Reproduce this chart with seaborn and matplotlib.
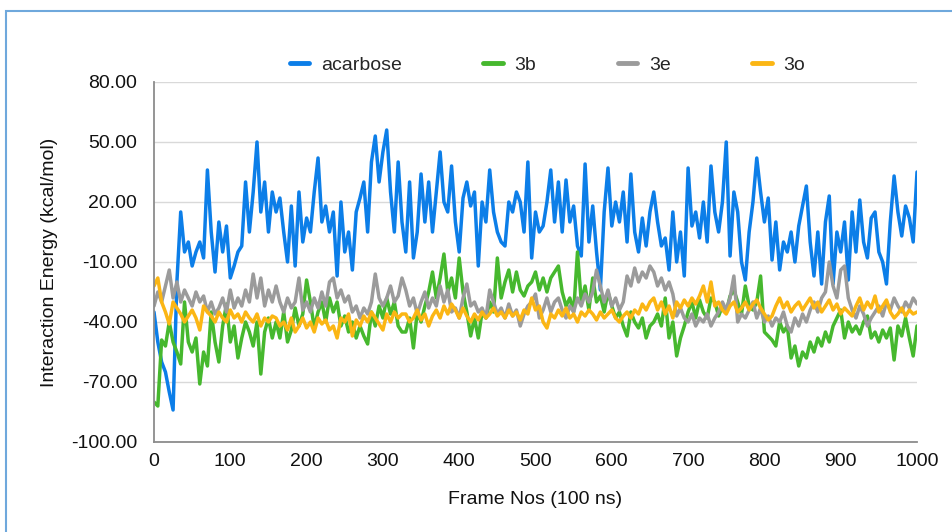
import matplotlib
matplotlib.use("Agg")
import matplotlib.pyplot as plt
import numpy as np
import pandas as pd
import seaborn as sns
from matplotlib.lines import Line2D
from matplotlib.patches import Rectangle
from matplotlib.ticker import FuncFormatter

# ---------------- data (every 5 frames) ----------------
frames = list(range(0, 1001, 5))

acarbose = [
    -35, -50, -60, -65, -75, -84, -20, 15, -5, 0,
    -12, -5, 0, -8, 36, 5, -15, 10, -5, 8,
    -18, -12, -5, -2, 30, 5, 25, 50, 15, 30,
    5, 25,
    15, 22, 5, -10, 18, -12, 25, 0, 12, 5,
    25, 42, 10, 18, 5, 15, -17, 20, -5, 5,
    -14, 15, 22, 30, 5, 40, 53, 30, 45, 56,
    25, 5, 40, 10,
    -5, 30, -8, 5, 34, 10, 30, 5, 25, 45,
    20, 15, 38, 10, -5, 22, 30, 18, 25, -12,
    20, 10, 36, 15, 5, 0, -2, 20, 15, 25,
    20, 5, 40,
    -8, 15, 5, 8, 20, 36, 10, 30, 5, 31,
    10, 18, -2, -7, 39, 0, 18, -5, -24, 15,
    37, 8, 20, 10, 25, 0, 34, 5, -5, 12,
    -2, 15,
    25, 10, -2, 2, -14, 15, -10, 5, -17, 37,
    8, 15, 2, 20, 0, 38, 15, 5, 20, 50,
    -7, 25, 15, -10, -19, 5, 20, 42, 25, 10,
    22, -9, 10,
    -14, 0, -5, 5, -10, 8, 18, 28, 0, -17,
    5, -21, 10, 23, -21, 5, -5, 10, -19, 15,
    -5, 21, 0, -8, 12, 15, -5, -10, -21, 10,
    33, 15, 3, 18, 12, 0, 35,
]

ligand_3b = [
    -80, -82, -49, -52, -40, -50, -55, -61, -30, -50,
    -55, -48, -71, -55, -62, -35, -50, -60, -42, -31,
    -50, -42, -58, -48, -40, -45, -52, -40, -66, -45,
    -38, -48,
    -40, -48, -35, -50, -44, -33, -42, -36, -19, -30,
    -43, -35, -30, -40, -28, -35, -30, -42, -37, -45,
    -40, -48, -42, -47, -51, -35, -42, -32, -38, -28,
    -36, -30, -42, -45,
    -45, -38, -53, -35, -40, -32, -25, -15, -28, -18,
    -6, -25, -18, -28, -8, -25, -35, -47, -38, -48,
    -35, -38, -30, -35, -8, -28, -20, -14, -25, -15,
    -24, -27, -22,
    -20, -15, -24, -18, -25, -18, -15, -12, -25, -32,
    -28, -35, -5, -30, -22, -34, -18, -30, -27, -35,
    -25, -32, -38, -35, -42, -47, -35, -40, -43, -38,
    -48, -42,
    -40, -36, -42, -28, -48, -40, -57, -48, -42, -35,
    -30, -38, -29, -35, -38, -28, -30, -37, -32, -35,
    -27, -24, -30, -36, -22, -32, -34, -30, -17, -45,
    -47, -49, -52,
    -40, -45, -42, -58, -52, -62, -55, -58, -50, -55,
    -48, -52, -45, -50, -42, -38, -34, -48, -40, -45,
    -42, -46, -40, -37, -48, -45, -50, -44, -48, -43,
    -59, -42, -47, -38, -48, -57, -42,
]

ligand_3e = [
    -32, -25, -30, -22, -14, -28, -20, -30, -24, -28,
    -32, -25, -30, -27, -35, -30, -36, -33, -28, -35,
    -24, -33, -28, -32, -24, -30, -16, -28, -18, -32,
    -24, -30,
    -22, -30, -35, -28, -33, -30, -18, -34, -30, -35,
    -28, -33, -25, -32, -20, -18, -28, -24, -30, -27,
    -35, -32, -38, -33, -36, -30, -16, -28, -32, -28,
    -22, -30, -27, -18,
    -24, -32, -28, -36, -30, -25, -33, -28, -32, -22,
    -30, -24, -35, -33, -38, -28, -21, -32, -30, -35,
    -33, -38, -24, -30, -36, -33, -38, -31, -37, -34,
    -42, -36, -32,
    -30, -26, -38, -34, -28, -35, -30, -28, -34, -38,
    -32, -35, -28, -32, -26, -30, -25, -14, -22, -30,
    -24, -32, -28, -34, -30, -17, -22, -13, -20, -15,
    -18, -12,
    -15, -22, -18, -24, -20, -26, -37, -33, -38, -40,
    -36, -42, -38, -40, -36, -42, -38, -35, -30, -34,
    -28, -17, -40, -36, -38, -34, -30, -38, -33, -40,
    -37, -42, -38,
    -40, -35, -42, -45, -38, -42, -36, -40, -34, -30,
    -35, -28, -25, -10, -22, -28, -14, -12, -28, -34,
    -38, -32, -36, -42, -38, -35, -32, -37, -30, -34,
    -28, -32, -35, -30, -33, -28, -31,
]

ligand_3o = [
    -22, -18, -30, -35, -41, -30, -33, -36, -40, -37,
    -34, -38, -44, -32, -35, -37, -40, -35, -38, -40,
    -34, -38, -36, -40, -35, -38, -40, -36, -42, -38,
    -40, -37,
    -38, -42, -40, -44, -38, -45, -42, -38, -43, -40,
    -45, -38, -41, -39, -44, -42, -48, -38, -40, -36,
    -47, -39, -42, -37, -40, -35, -38, -41, -44, -36,
    -40, -35, -38, -36,
    -36, -40, -38, -34, -39, -36, -42, -37, -34, -38,
    -32, -36, -31, -34, -38, -33, -37, -40, -36, -39,
    -35, -38, -36, -33, -37, -35, -38, -34, -37, -35,
    -39, -34, -36,
    -28, -34, -32, -40, -43, -36, -38, -34, -37, -33,
    -38, -36, -40, -35, -37, -34, -36, -39, -35, -38,
    -36, -34, -38, -40, -37, -35, -38, -34, -36, -31,
    -34, -30,
    -28, -34, -30, -36, -32, -38, -30, -33, -29, -32,
    -28, -31, -27, -22, -30, -20, -32, -30, -34, -36,
    -32, -30, -35, -33, -30, -34, -31, -29, -33, -36,
    -39, -37, -32,
    -28, -33, -30, -35, -32, -30, -34, -31, -28, -33,
    -30, -35, -32, -29, -34, -31, -36, -33, -35, -37,
    -32, -28, -34, -30, -33, -27, -35, -32, -29, -35,
    -38, -36, -33, -37, -34, -36, -35,
]

series_names = ["acarbose", "3b", "3e", "3o"]
series_colors = ["#0c7ee8", "#46b82e", "#9b9b9b", "#fbb614"]
y_ticks = [-100, -70, -40, -10, 20, 50, 80]
x_ticks = list(range(0, 1001, 100))

# ---------------- styling ----------------
sns.set_theme(style="white")
plt.rcParams["font.family"] = ["Liberation Sans", "DejaVu Sans"]

df = pd.concat(
    [pd.DataFrame({"frame": frames, "energy": vals, "ligand": name})
     for name, vals in zip(series_names, [acarbose, ligand_3b, ligand_3e, ligand_3o])],
    ignore_index=True,
)

W, H = 952, 532
fig = plt.figure(figsize=(W / 100, H / 100), dpi=100)
fig.patch.set_facecolor("white")
ax = fig.add_axes([154 / W, 1 - 442 / H, (917 - 154) / W, (442 - 82) / H])

sns.lineplot(data=df, x="frame", y="energy", hue="ligand", hue_order=series_names,
             palette=series_colors, linewidth=2.5, estimator=None, errorbar=None,
             sort=False, legend=False, ax=ax)

ax.set_xlim(0, 1000)
ax.set_ylim(-100, 80)
ax.set_xticks(x_ticks)
ax.set_yticks(y_ticks)
ax.yaxis.set_major_formatter(FuncFormatter(lambda v, p: f"{v:.2f}"))
ax.grid(axis="y", color="#d9d9d9", linewidth=1.0)
ax.grid(axis="x", visible=False)
ax.set_axisbelow(True)
for s in ["top", "right"]:
    ax.spines[s].set_visible(False)
for s in ["left", "bottom"]:
    ax.spines[s].set_color("#8c8c8c")
    ax.spines[s].set_linewidth(1.3)
ax.tick_params(axis="both", length=0, labelsize=14, labelcolor="#111111")
ax.tick_params(axis="y", pad=12)
ax.tick_params(axis="x", pad=8)

ax.set_xlabel("Frame Nos (100 ns)", fontsize=14, color="#111111")
ax.set_ylabel("Interaction Energy (kcal/mol)", fontsize=14, color="#111111")
ax.xaxis.set_label_coords(0.5, (442 - 491) / 360)
ax.yaxis.set_label_coords((58 - 154) / 763, 0.5)

handles = [Line2D([], [], color=c, linewidth=3.5) for c in series_colors]
fig.legend(handles, series_names, loc="center", bbox_to_anchor=(547.5 / W, 1 - 65 / H),
           ncol=4, frameon=False, fontsize=14, handlelength=1.0, handletextpad=0.6,
           columnspacing=4.2, borderpad=0)

fig.add_artist(Rectangle((5.5 / W, -0.5), 2.0, 1 - 11.5 / H + 0.5, transform=fig.transFigure,
                         fill=False, edgecolor="#6fa8dc", linewidth=1.5, clip_on=False))

fig.savefig("out.png", dpi=100)
